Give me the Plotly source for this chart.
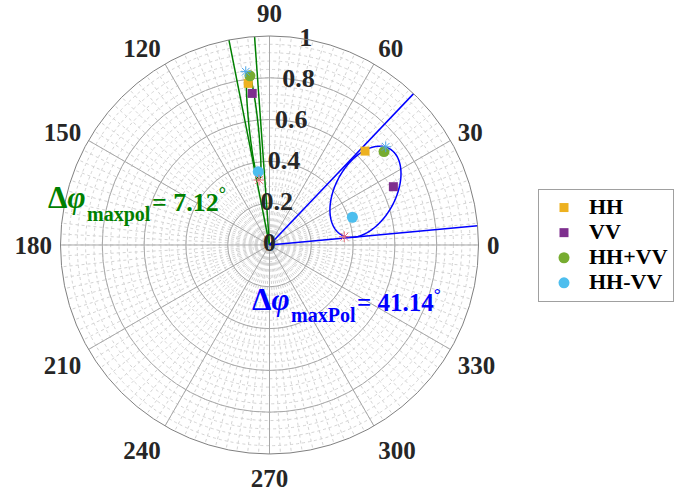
import numpy as np
import plotly.graph_objects as go

# ---------------- data ----------------
series_names = ["HH", "VV", "HH+VV", "HH-VV"]
hh_r = [0.780, 0.641]
hh_theta = [97.5, 44.5]
vv_r = [0.730, 0.655]
vv_theta = [96.5, 25.2]
hhpvv_r = [0.815, 0.707]
hhpvv_theta = [96.6, 39.2]
hhmvv_r = [0.355, 0.418]
hhmvv_theta = [98.7, 18.5]

star_max_r = [0.837, 0.728]
star_max_theta = [97.8, 40.2]
star_min_r = [0.315, 0.360]
star_min_theta = [99.2, 6.3]

green_lines_theta = [94.1, 101.2]   # delta 7.12
blue_lines_theta = [5.26, 46.4]     # delta 41.14

# ellipse params: center r, center theta, semi-major, semi-minor, tilt (deg)
green_ellipse = dict(cr=0.573, ct=97.6, a=0.258, b=0.022, tilt=96.0)
blue_ellipse = dict(cr=0.525, ct=29.0, a=0.236, b=0.144, tilt=61.1)

radial_ticks = [0, 0.2, 0.4, 0.6, 0.8, 1]
radial_tick_text = ["0", "0.2", "0.4", "0.6", "0.8", "1"]
angular_ticks = [0, 30, 60, 90, 120, 150, 180, 210, 240, 270, 300, 330]

colors = {"HH": "#EDB120", "VV": "#7E2F8E", "HH+VV": "#77AC30", "HH-VV": "#4DBEEE"}
FONT = "Liberation Serif, Times New Roman, Tinos, DejaVu Serif, serif"


def ellipse_polar(p):
    t = np.linspace(0, 2 * np.pi, 361)
    cx = p["cr"] * np.cos(np.radians(p["ct"]))
    cy = p["cr"] * np.sin(np.radians(p["ct"]))
    ph = np.radians(p["tilt"])
    x = cx + p["a"] * np.cos(t) * np.cos(ph) - p["b"] * np.sin(t) * np.sin(ph)
    y = cy + p["a"] * np.cos(t) * np.sin(ph) + p["b"] * np.sin(t) * np.cos(ph)
    return np.hypot(x, y), np.degrees(np.arctan2(y, x))


fig = go.Figure()

# invisible trace to activate the minor-grid polar underlay
fig.add_trace(go.Scatterpolar(r=[0], theta=[0], mode="markers", marker=dict(opacity=0),
                              showlegend=False, hoverinfo="skip", subplot="polar"))

# lines
for th in green_lines_theta:
    fig.add_trace(go.Scatterpolar(r=[0, 1], theta=[th, th], mode="lines",
                                  line=dict(color="#008000", width=1.5),
                                  showlegend=False, subplot="polar2"))
for th in blue_lines_theta:
    fig.add_trace(go.Scatterpolar(r=[0, 1], theta=[th, th], mode="lines",
                                  line=dict(color="#0000FF", width=1.5),
                                  showlegend=False, subplot="polar2"))

# ellipses
er, et = ellipse_polar(green_ellipse)
fig.add_trace(go.Scatterpolar(r=er, theta=et, mode="lines", line=dict(color="#008000", width=1.5),
                              showlegend=False, subplot="polar2"))
er, et = ellipse_polar(blue_ellipse)
fig.add_trace(go.Scatterpolar(r=er, theta=et, mode="lines", line=dict(color="#0000FF", width=1.5),
                              showlegend=False, subplot="polar2"))

# series markers
series = [("HH", hh_r, hh_theta, "square", 9),
          ("VV", vv_r, vv_theta, "square", 9),
          ("HH+VV", hhpvv_r, hhpvv_theta, "circle", 11),
          ("HH-VV", hhmvv_r, hhmvv_theta, "circle", 11)]
for name, r, th, sym, sz in series:
    fig.add_trace(go.Scatterpolar(r=r, theta=th, mode="markers",
                                  name='<span style="font-size:22px">' + name + '</span>',
                                  marker=dict(symbol=sym, size=sz, color=colors[name],
                                              line=dict(width=0)),
                                  subplot="polar2"))

# asterisks
fig.add_trace(go.Scatterpolar(r=star_max_r, theta=star_max_theta, mode="markers",
                              marker=dict(symbol="asterisk-open", size=9, color="#4DA6E8",
                                          line=dict(color="#4DA6E8", width=1)),
                              showlegend=False, subplot="polar2"))
fig.add_trace(go.Scatterpolar(r=star_min_r, theta=star_min_theta, mode="markers",
                              marker=dict(symbol="asterisk-open", size=9, color="#E8707A",
                                          line=dict(color="#E8707A", width=1)),
                              showlegend=False, subplot="polar2"))

# radial tick labels
fig.add_trace(go.Scatterpolar(r=radial_ticks, theta=[80] * len(radial_ticks), mode="text",
                              text=radial_tick_text,
                              textfont=dict(family=FONT, size=26, color="#262626", weight="bold"),
                              showlegend=False, hoverinfo="skip", subplot="polar2"))

domain = dict(x=[0.0878, 0.6945], y=[0.0754, 0.9267])


def ann(text, x, y, size, color):
    return dict(xref="paper", yref="paper", x=x / 689, y=1 - y / 491, xanchor="left",
                yanchor="middle", showarrow=False, text=text,
                font=dict(family=FONT, size=size, color=color, weight="bold"))


G = "#008000"
B = "#0000FF"
annotations = [
    ann("Δ<i>φ</i>", 46, 198, 31, G),
    ann("maxpol", 85, 215, 20, G),
    ann("= 7.12<sup>°</sup>", 150, 200, 26, G),
    ann("Δ<i>φ</i>", 250, 299, 31, B),
    ann("maxPol", 289, 315, 20, B),
    ann("= 41.14<sup>°</sup>", 355, 300, 25, B),
]

fig.update_layout(
    width=689, height=491,
    margin=dict(l=0, r=0, t=0, b=0),
    paper_bgcolor="white",
    showlegend=True,
    polar=dict(
        domain=domain,
        bgcolor="white",
        radialaxis=dict(range=[0, 1], dtick=0.04, showticklabels=False, ticks="",
                        showline=False, gridcolor="#d4d4d4", griddash="dot", gridwidth=1),
        angularaxis=dict(rotation=0, direction="counterclockwise", dtick=3,
                         showticklabels=False, ticks="", showline=False,
                         gridcolor="#d4d4d4", griddash="dot", gridwidth=1),
    ),
    polar2=dict(
        domain=domain,
        bgcolor="rgba(0,0,0,0)",
        radialaxis=dict(range=[0, 1], tickvals=radial_ticks, showticklabels=False, ticks="",
                        showline=False, gridcolor="#a8a8a8", gridwidth=1),
        angularaxis=dict(rotation=0, direction="counterclockwise", tickvals=angular_ticks,
                         ticks="outside", ticklen=3, tickcolor="rgba(0,0,0,0)",
                         tickfont=dict(family=FONT, size=25, color="#262626", weight="bold"),
                         showline=True, linecolor="#808080", linewidth=1,
                         gridcolor="#a8a8a8", gridwidth=1),
    ),
    legend=dict(x=538 / 689, y=1 - 189 / 491, xanchor="left", yanchor="top",
                bordercolor="#a0a0a0", borderwidth=1, bgcolor="white",
                font=dict(family=FONT, size=17, color="black", weight="bold"),
                itemwidth=40, tracegroupgap=0),
    annotations=annotations,
)

fig.write_html("out.html")
